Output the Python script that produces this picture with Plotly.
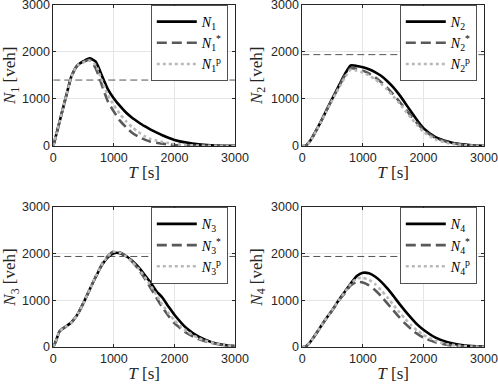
import plotly.graph_objects as go

# common time grid [s]
T = [0, 50, 100, 150, 200, 300, 400, 500, 600, 700, 800, 900, 1000, 1100, 1200, 1300,
     1400, 1500, 1600, 1700, 1800, 1900, 2000, 2200, 2400, 2600, 2800, 3000]

# link 1
N1 = [0, 250, 500, 750, 1000, 1480, 1710, 1800, 1860, 1790, 1500, 1210, 1010, 850, 710, 600,
      510, 425, 355, 290, 228, 175, 130, 72, 35, 15, 6, 3]
N1_star = [0, 250, 500, 750, 1000, 1470, 1720, 1790, 1830, 1650, 1300, 950, 730, 540, 400, 280,
           200, 140, 95, 70, 50, 35, 22, 8, 3, 1, 0, 0]
N1_p = [0, 250, 500, 750, 1000, 1470, 1710, 1780, 1810, 1720, 1400, 1080, 870, 680, 530, 400,
        300, 215, 150, 115, 85, 62, 42, 20, 8, 3, 1, 0]

# link 2
N2 = [0, 0, 60, 150, 260, 500, 760, 1020, 1270, 1520, 1710, 1700, 1670, 1630, 1570, 1490,
      1380, 1250, 1090, 910, 720, 540, 380, 190, 95, 40, 15, 5]
N2_star = [0, 0, 60, 150, 260, 500, 760, 1010, 1250, 1490, 1650, 1640, 1600, 1540, 1460, 1360,
           1240, 1100, 950, 790, 630, 480, 340, 170, 85, 35, 12, 4]
N2_p = [0, 0, 55, 140, 250, 490, 740, 990, 1220, 1450, 1620, 1600, 1560, 1500, 1420, 1320,
        1200, 1060, 910, 750, 590, 440, 300, 140, 65, 25, 8, 3]

# link 3
N3 = [0, 150, 330, 390, 430, 530, 700, 950, 1230, 1500, 1750, 1920, 2010, 2010, 1950, 1850,
      1720, 1560, 1390, 1200, 1060, 870, 690, 400, 220, 110, 50, 20]
N3_star = [0, 150, 330, 390, 430, 530, 700, 950, 1230, 1510, 1770, 1950, 2050, 2030, 1950, 1830,
           1680, 1490, 1280, 1060, 850, 670, 510, 300, 170, 90, 40, 15]
N3_p = [0, 150, 330, 390, 430, 530, 700, 950, 1230, 1510, 1760, 1940, 2040, 2020, 1940, 1830,
        1690, 1520, 1330, 1120, 910, 730, 570, 340, 190, 100, 45, 18]

# link 4
N4 = [0, 0, 60, 140, 230, 430, 620, 800, 1000, 1180, 1360, 1520, 1590, 1580, 1510, 1400,
      1260, 1100, 930, 770, 620, 480, 370, 200, 100, 45, 18, 7]
N4_star = [0, 0, 60, 140, 230, 430, 620, 800, 990, 1150, 1320, 1400, 1380, 1320, 1220, 1090,
           940, 790, 640, 500, 380, 280, 200, 100, 45, 18, 7, 3]
N4_p = [0, 0, 60, 140, 230, 430, 620, 800, 1000, 1170, 1350, 1470, 1480, 1440, 1350, 1220,
        1070, 910, 750, 600, 460, 350, 260, 130, 60, 25, 10, 4]

# critical accumulation per link
N_crit = [1400, 1940, 1940, 1940]
T_range = [0, 3000]
ticks = [0, 1000, 2000, 3000]

series = [(N1, N1_star, N1_p), (N2, N2_star, N2_p), (N3, N3_star, N3_p), (N4, N4_star, N4_p)]

W, H = 498, 386
# panel boxes in pixels: (left, right, top, bottom)
boxes = [(53.3, 235, 4.7, 146), (302.3, 484, 4.7, 146),
         (53.3, 235, 207, 347), (302.3, 484, 207, 347)]

SERIF = 'Liberation Serif'
SANS = 'Liberation Sans'
AX = '#262626'

fig = go.Figure()
layout = dict(width=W, height=H, margin=dict(l=0, r=0, t=0, b=0),
              plot_bgcolor='white', paper_bgcolor='white', showlegend=True)

for i, (n, n_star, n_p) in enumerate(series):
    k = i + 1
    sfx = '' if k == 1 else str(k)
    xa, ya = 'x' + sfx, 'y' + sfx
    lg = 'legend' + sfx
    # critical line
    fig.add_trace(go.Scatter(x=T_range, y=[N_crit[i]] * 2, mode='lines', xaxis=xa, yaxis=ya,
                             line=dict(color='#555555', width=1, dash='7px,4px'),
                             showlegend=False, hoverinfo='skip'))
    fig.add_trace(go.Scatter(x=T, y=n, mode='lines', xaxis=xa, yaxis=ya, legend=lg,
                             name='<i>N</i><sub>%d</sub>' % k,
                             line=dict(color='black', width=2.6, shape='spline', smoothing=0.6)))
    fig.add_trace(go.Scatter(x=T, y=n_star, mode='lines', xaxis=xa, yaxis=ya, legend=lg,
                             name='<i>N</i><sub>%d</sub><sup>*</sup>' % k,
                             line=dict(color='#595959', width=2.6, dash='10px,5px',
                                       shape='spline', smoothing=0.6)))
    fig.add_trace(go.Scatter(x=T, y=n_p, mode='lines', xaxis=xa, yaxis=ya, legend=lg,
                             name='<i>N</i><sub>%d</sub><sup>p</sup>' % k,
                             line=dict(color='#b8b8b8', width=2.6, dash='3px,3px',
                                       shape='spline', smoothing=0.6)))

    l, r, t, b = boxes[i]
    axis_common = dict(range=T_range, tickvals=ticks, showgrid=True, gridcolor='#e5e5e5',
                       showline=True, linecolor=AX, linewidth=0.8, mirror='ticks',
                       ticks='inside', ticklen=3, tickcolor=AX, zeroline=False,
                       ticklabeloverflow='allow',
                       tickfont=dict(family=SANS, size=12.5, color=AX), automargin=False)
    layout['xaxis' + sfx] = dict(axis_common, domain=[l / W, r / W], anchor=ya,
                                 title=dict(text='<i>T</i> [s]', standoff=2,
                                            font=dict(family=SERIF, size=17, color=AX)))
    layout['yaxis' + sfx] = dict(axis_common, domain=[1 - b / H, 1 - t / H], anchor=xa,
                                 title=dict(text='<i>N</i><sub>%d</sub> [veh]' % k, standoff=4,
                                            font=dict(family=SERIF, size=17, color=AX)))
    layout[lg] = dict(x=(r - 7) / W, y=1 - (t + 0.5) / H, xanchor='right', yanchor='top',
                      bgcolor='white', bordercolor=AX, borderwidth=0.8,
                      font=dict(family=SERIF, size=14, color='black'),
                      itemwidth=40, tracegroupgap=0)

fig.update_layout(**layout)
# drop the default page margin so the figure fills the window
fig.write_html("out.html", config={'displayModeBar': False},
               post_script="document.body.style.margin='0px';")
